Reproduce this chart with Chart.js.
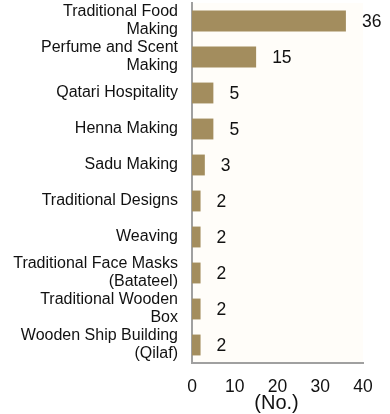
<!DOCTYPE html>
<html>
<head>
<meta charset="utf-8">
<script src="https://cdn.jsdelivr.net/npm/chart.js@4"></script>
<style>
  html, body { margin: 0; padding: 0; background: #fff; }
  #wrap { width: 390px; height: 414px; position: relative; }
</style>
</head>
<body>
<div id="wrap"><canvas id="myChart" width="390" height="414"></canvas></div>
<script>
// 카테고리와 값
var categories = [
  ['Traditional Food', 'Making'],
  ['Perfume and Scent', 'Making'],
  'Qatari Hospitality',
  'Henna Making',
  'Sadu Making',
  'Traditional Designs',
  'Weaving',
  ['Traditional Face Masks', '(Batateel)'],
  ['Traditional Wooden', 'Box'],
  ['Wooden Ship Building', '(Qilaf)']
];
var counts = [36, 15, 5, 5, 3, 2, 2, 2, 2, 2];
var xTicks = [0, 10, 20, 30, 40];

var FONT = "'Liberation Sans', Arial, sans-serif";

// 플롯 영역 배경
var areaBg = {
  id: 'areaBg',
  beforeDraw: function(chart){
    var a = chart.chartArea, c = chart.ctx;
    c.save();
    c.fillStyle = '#fffdf9';
    c.fillRect(a.left, a.top, a.right - a.left, a.bottom - a.top);
    c.restore();
  }
};

// 막대 끝 값 표시
var valueLabels = {
  id: 'valueLabels',
  afterDatasetsDraw: function(chart){
    var c = chart.ctx;
    var meta = chart.getDatasetMeta(0);
    c.save();
    c.font = '17.5px ' + FONT;
    c.fillStyle = '#111';
    c.textAlign = 'left';
    c.textBaseline = 'middle';
    meta.data.forEach(function(bar, i){
      c.fillText(String(counts[i]), bar.x + 16, bar.y + 1);
    });
    c.restore();
  }
};

// x축 제목
var axisTitle = {
  id: 'axisTitle',
  afterDraw: function(chart){
    var c = chart.ctx;
    var x = chart.scales.x;
    c.save();
    c.font = '20px ' + FONT;
    c.fillStyle = '#111';
    c.textAlign = 'center';
    c.textBaseline = 'middle';
    c.fillText('(No.)', x.getPixelForValue(20) - 1, 403);
    c.restore();
  }
};

new Chart(document.getElementById('myChart'), {
  type: 'bar',
  data: {
    labels: categories,
    datasets: [{
      data: counts,
      backgroundColor: '#a38d5e',
      borderWidth: 0,
      categoryPercentage: 1,
      barPercentage: 0.58
    }]
  },
  options: {
    indexAxis: 'y',
    responsive: false,
    animation: false,
    layout: { padding: { top: 3, right: 27, bottom: 0, left: 0 } },
    plugins: { legend: { display: false }, tooltip: { enabled: false } },
    scales: {
      x: {
        min: 0,
        max: 40,
        afterBuildTicks: function(scale){
          scale.ticks = xTicks.map(function(v){ return { value: v }; });
        },
        afterFit: function(scale){ scale.height = 51; },
        grid: { display: false, drawTicks: false },
        border: { color: '#a0a0a0', width: 2 },
        ticks: { color: '#111', font: { family: FONT, size: 17.5 }, padding: 14, maxRotation: 0 }
      },
      y: {
        afterFit: function(scale){
          scale.width = 192;
          // 두 줄 라벨 때문에 위쪽 여백이 커지지 않게
          scale.paddingTop = 0;
          scale.paddingBottom = 0;
        },
        grid: { display: false, drawTicks: false },
        border: { color: '#a0a0a0', width: 2 },
        ticks: { color: '#111', font: { family: FONT, size: 16, lineHeight: 1.12 }, padding: 14, autoSkip: false }
      }
    }
  },
  plugins: [areaBg, valueLabels, axisTitle]
});
</script>
</body>
</html>
